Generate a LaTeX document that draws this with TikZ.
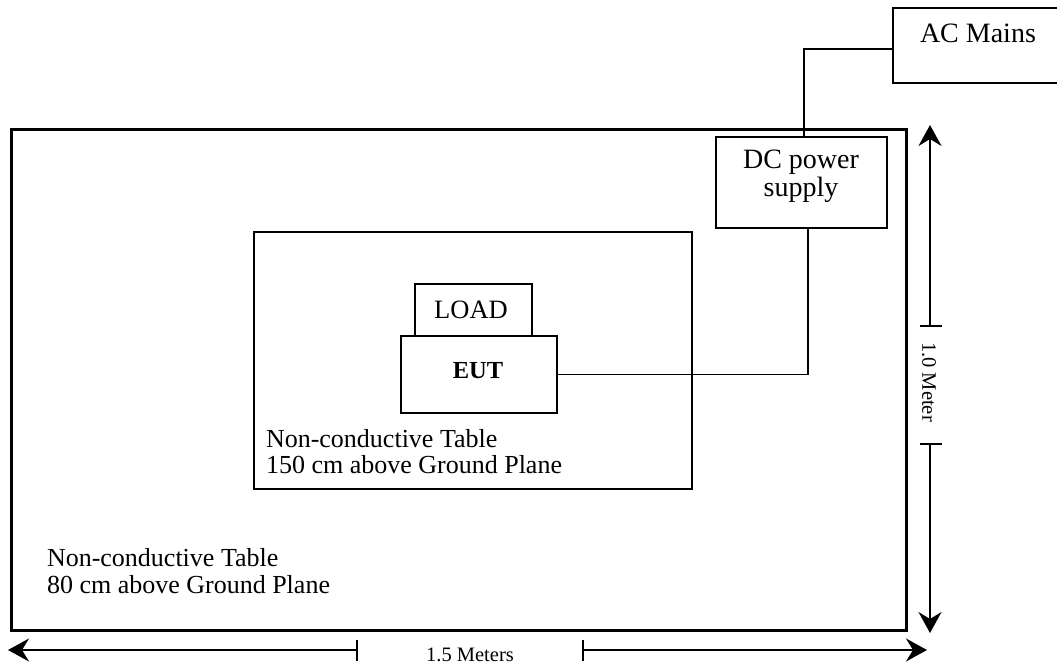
\documentclass[tikz,border=0pt]{standalone}
\usepackage{fontspec}
\setmainfont{Liberation Serif}
\usetikzlibrary{arrows.meta}
\begin{document}
\begin{tikzpicture}[x=1pt,y=-1pt,
  box/.style={draw,line width=1.5pt,inner sep=0pt,outer sep=0pt},
  thickbox/.style={draw,line width=3pt,inner sep=0pt,outer sep=0pt},
  wire/.style={line width=1.5pt},
  dimline/.style={line width=1.6pt,-{Stealth[length=21pt,width=23pt,inset=7pt]}},
  tick/.style={line width=1.6pt},
  txt/.style={inner sep=0pt,outer sep=0pt},
  bigfont/.style={font=\fontsize{28}{28}\selectfont},
  midfont/.style={font=\fontsize{26}{26.5}\selectfont},
  smallfont/.style={font=\fontsize{20.5}{22}\selectfont}]
\useasboundingbox (0,0) rectangle (1057,666);
% boxes
\node[thickbox, minimum width=895pt, minimum height=500pt] (outer) at (458.5,380) {};
\node[box, minimum width=438pt, minimum height=257pt] (inner) at (473,360.5) {};
\node[box, minimum width=117pt, minimum height=52pt] (load) at (473.5,310) {};
\node[box, minimum width=156pt, minimum height=77pt] (eut) at (479,374.5) {};
\node[box, minimum width=171pt, minimum height=91pt] (dc) at (801.5,182.5) {};
\node[box, minimum width=172pt, minimum height=75pt] (ac) at (979,45.5) {};
% texts
\node[txt, bigfont, anchor=base west] (actext) at (920,43) {AC Mains};
\node[txt, bigfont, anchor=base] (dctext1) at (801,168) {DC power};
\node[txt, bigfont, anchor=base] (dctext2) at (801,196) {supply};
\node[txt, font=\fontsize{26.5}{28}\selectfont, anchor=base] (loadtext) at (471,318) {LOAD};
\node[txt, font=\fontsize{24.5}{26}\bfseries\selectfont, anchor=base] (euttext) at (478,378) {EUT};
\node[txt, midfont, anchor=base west] (inner1) at (266,447) {Non-conductive Table};
\node[txt, midfont, anchor=base west] (inner2) at (266,473.5) {150 cm above Ground Plane};
\node[txt, midfont, anchor=base west] (outer1) at (47,566) {Non-conductive Table};
\node[txt, midfont, anchor=base west] (outer2) at (47,593) {80 cm above Ground Plane};
% wires
\draw[wire] (eut.east) -| ([xshift=6.5pt]dc.south);
\draw[wire] ([yshift=-3.5pt]ac.west) -| ([xshift=2.5pt]dc.north);
% vertical dimension
\coordinate (vtop) at (930,125);
\coordinate (vbot) at (930,633);
\coordinate (vgap1) at (930,326);
\coordinate (vgap2) at (930,444);
\draw[dimline] (vgap1) -- (vtop);
\draw[dimline] (vgap2) -- (vbot);
\draw[tick] ([xshift=-10pt]vgap1) -- ([xshift=12pt]vgap1);
\draw[tick] ([xshift=-10pt]vgap2) -- ([xshift=12pt]vgap2);
\node[txt, smallfont, rotate=-90] (vtext) at (929,382) {1.0 Meter};
% horizontal dimension
\coordinate (hleft) at (8,650);
\coordinate (hright) at (927,650);
\coordinate (hgap1) at (357,650);
\coordinate (hgap2) at (583,650);
\draw[dimline] (hgap1) -- (hleft);
\draw[dimline] (hgap2) -- (hright);
\draw[tick] ([yshift=10pt]hgap1) -- ([yshift=-11pt]hgap1);
\draw[tick] ([yshift=10pt]hgap2) -- ([yshift=-11pt]hgap2);
\node[txt, smallfont, anchor=base] (htext) at (470,661) {1.5 Meters};
\end{tikzpicture}
\end{document}
